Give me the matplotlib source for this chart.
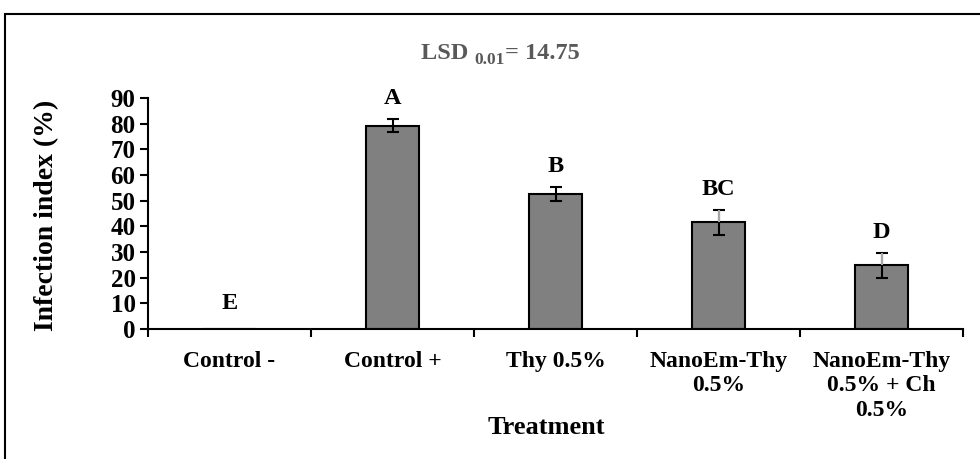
import matplotlib
matplotlib.use("Agg")
import matplotlib.pyplot as plt
from matplotlib.patches import Rectangle
import numpy as np

categories = ["Control -", "Control +", "Thy 0.5%", "NanoEm-Thy\n0.5%", "NanoEm-Thy\n0.5% + Ch\n0.5%"]
values = [0.0, 79.2, 52.7, 41.5, 24.8]
errors = [0.0, 2.5, 2.8, 4.9, 4.9]
letters = ["E", "A", "B", "BC", "D"]
yticks = [0, 10, 20, 30, 40, 50, 60, 70, 80, 90]
lsd_parts = ["LSD ", "0.01", "= 14.75"]

plt.rcParams['font.family'] = ['Liberation Serif', 'DejaVu Serif']
plt.rcParams['font.weight'] = 'bold'

fig = plt.figure(figsize=(9.8, 4.59), dpi=100)
W, H = 980, 459
ax = fig.add_axes([148 / W, 1 - 329 / H, 815 / W, (329 - 98) / H])

x = np.arange(len(categories))
ax.bar(x, values, width=0.32, color="#808080", edgecolor="black", linewidth=1.5, zorder=2)
ax.errorbar(x[1:], values[1:], yerr=errors[1:], fmt="none", ecolor="black",
            elinewidth=1.5, capsize=4, capthick=1.5, zorder=3)
# upper whiskers of the last two bars are drawn in light grey in the reference
ax.vlines(x[3:], np.array(values[3:]), np.array(values[3:]) + np.array(errors[3:]),
          colors="#a6a6a6", linewidth=1.5, zorder=4)

for xi, v, e, t in zip(x, values, errors, letters):
    yy = v + e + 8 if v > 0 else 10
    ax.text(xi, yy, t, ha="center", va="center", fontsize=17.5, fontweight="bold")

ax.set_xlim(-0.5, len(categories) - 0.5)
ax.set_ylim(0, 90)
ax.set_yticks(yticks)
ax.set_yticklabels([str(t) for t in yticks], fontsize=18, fontweight="bold")
ax.tick_params(axis="y", length=6, width=1.5, pad=3)

ax.set_xticks(np.arange(len(categories) + 1) - 0.5)
ax.set_xticklabels([])
ax.tick_params(axis="x", which="major", length=6, width=1.5)
ax.set_xticks(x, minor=True)
ax.set_xticklabels(categories, minor=True, fontsize=17, fontweight="bold", linespacing=1.2, va="top")
ax.tick_params(axis="x", which="minor", length=0, pad=16)

for s in ["top", "right"]:
    ax.spines[s].set_visible(False)
for s in ["left", "bottom"]:
    ax.spines[s].set_linewidth(1.5)

fig.text(47 / W, 1 - 215 / H, "Infection index (%)", rotation=90, ha="center", va="center",
         fontsize=20, fontweight="bold")
fig.text(546 / W, 1 - 428 / H, "Treatment", ha="center", va="center", fontsize=19, fontweight="bold")

# LSD annotation built from pieces (main text + lowered subscript)
fig.canvas.draw()
renderer = fig.canvas.get_renderer()
sizes = [17.5, 12.5, 17.5]
drops = [0, -5, 0]
pieces = [fig.text(0, 0, s, fontsize=fs, fontweight="bold", color="#595959", va="baseline")
          for s, fs in zip(lsd_parts, sizes)]
widths = [p.get_window_extent(renderer).width for p in pieces]
total = sum(widths)
cx, base = 500, H - 59
left = cx - total / 2
for p, w, d in zip(pieces, widths, drops):
    p.set_position((left / W, (base + d) / H))
    left += w

fig.patches.append(Rectangle((5 / W, -0.2), 1.2, 1 - 14 / H + 0.2, transform=fig.transFigure,
                             fill=False, edgecolor="black", linewidth=1.5))

fig.savefig("out.png", dpi=100)
